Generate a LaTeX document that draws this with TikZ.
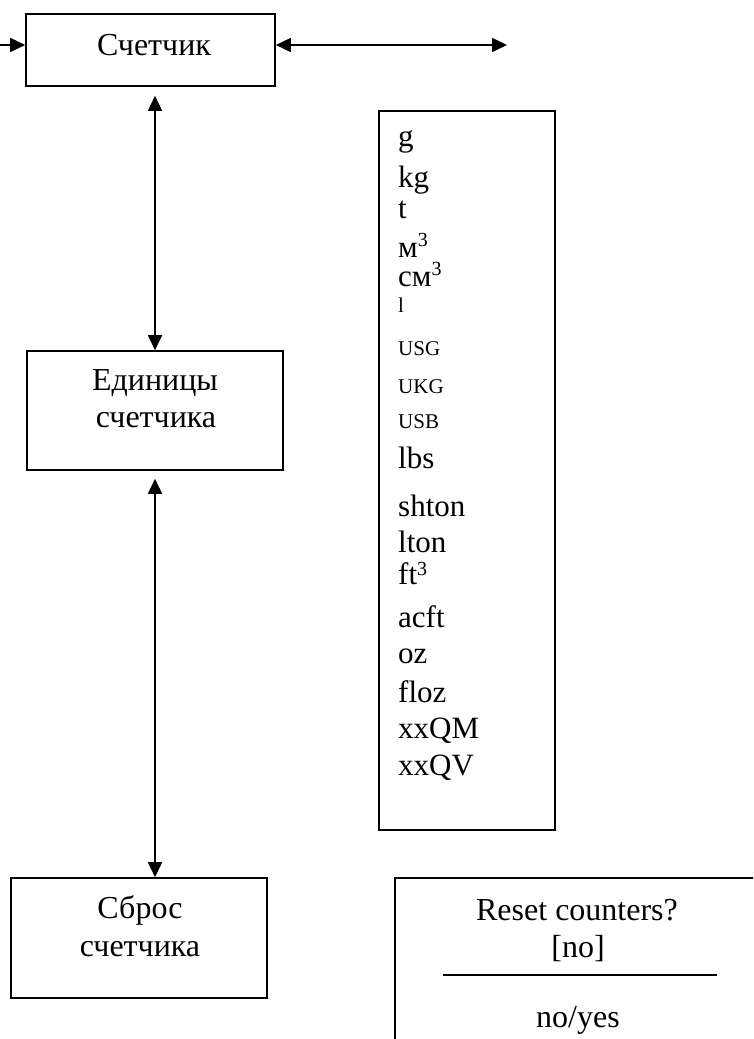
\documentclass[tikz,border=0pt]{standalone}
\usepackage{fontspec}
\setmainfont{Liberation Serif}
\usetikzlibrary{arrows.meta,calc}
\newcommand\bigtxt{\fontsize{32}{38}\selectfont}
\newcommand\listtxt{\fontsize{31}{37}\selectfont}
\newcommand\smalltxt{\fontsize{21}{25}\selectfont}
\newcommand\supthree[1]{\raisebox{#1}{\fontsize{20}{20}\selectfont 3}}
\tikzset{
  box/.style={draw, line width=1.6pt, inner sep=0pt, rectangle},
  lbl/.style={anchor=base, inner sep=0pt, font=\bigtxt},
  item/.style={anchor=base west, inner sep=0pt, font=\listtxt},
  sitem/.style={anchor=base west, inner sep=0pt, font=\smalltxt},
  conn/.style={line width=1.6pt},
  arr/.style={line width=1.6pt, -{Triangle[length=15pt,width=14pt]}},
  dblarr/.style={line width=1.6pt, {Triangle[length=15pt,width=14pt]}-{Triangle[length=15pt,width=14pt]}}
}
\begin{document}
\begin{tikzpicture}[x=1pt,y=-1pt]
\useasboundingbox (0,0) rectangle (753,1039);
\clip (0,0) rectangle (753,1039);
% boxes
\node[box, minimum width=249pt, minimum height=72pt] (c) at (150.5,50) {};
\node[box, minimum width=256pt, minimum height=119pt] (e) at (155,410.5) {};
\node[box, minimum width=176pt, minimum height=719pt] (u) at (467,470.5) {};
\node[box, minimum width=256pt, minimum height=120pt] (s) at (139,938) {};
\node[box, minimum width=380pt, minimum height=190pt] (r) at (585,973) {};
% labels
\node[lbl] (ct) at (154,55) {Счетчик};
\node[lbl] (e1) at (155,390) {Единицы};
\node[lbl] (e2) at (156,427) {счетчика};
\node[lbl] (s1) at (140,918) {Сброс};
\node[lbl] (s2) at (140,956) {счетчика};
\node[lbl] (r1) at (577,920) {Reset counters?};
\node[lbl] (r2) at (578,957) {[no]};
\node[lbl] (r3) at (578,1027) {no/yes};
\coordinate (sepL) at (443,975);
\coordinate (sepR) at (717,975);
\draw[conn] (sepL) -- (sepR);
% unit list
\node[item] (u1) at (398,146) {g};
\node[item] (u2) at (398,187) {kg};
\node[item] (u3) at (398,218) {t};
\node[item] (u4) at (398,257) {м\supthree{11pt}};
\node[item] (u5) at (398,286) {см\supthree{11pt}};
\node[sitem] (u6) at (398,312) {l};
\node[sitem] (u7) at (398,355) {USG};
\node[sitem] (u8) at (398,393) {UKG};
\node[sitem] (u9) at (398,428) {USB};
\node[item] (u10) at (398,468) {lbs};
\node[item] (u11) at (398,516) {shton};
\node[item] (u12) at (398,552) {lton};
\node[item] (u13) at (398,584) {ft\supthree{9pt}};
\node[item] (u14) at (398,627) {acft};
\node[item] (u15) at (398,663) {oz};
\node[item] (u16) at (398,702) {floz};
\node[item] (u17) at (398,738) {xxQM};
\node[item] (u18) at (398,775) {xxQV};
% connectors
\coordinate (inL) at (0,45);
\coordinate (outR) at (507,45);
\draw[arr] (inL) -- (inL -| c.west);
\draw[dblarr] (c.east |- inL) -- (outR);
\draw[dblarr, shorten <=9pt] (e.north |- c.south) -- (e.north);
\draw[dblarr, shorten <=8pt] (e.south) -- (e.south |- s.north);
\draw[conn] ($(e.east)+(0,-5)$) -- ($(e.east)+(0,-5)$ -| u.west);
\draw[conn] ($(s.east)+(0,-5)$) -- ($(s.east)+(0,-5)$ -| r.west);
\end{tikzpicture}
\end{document}
